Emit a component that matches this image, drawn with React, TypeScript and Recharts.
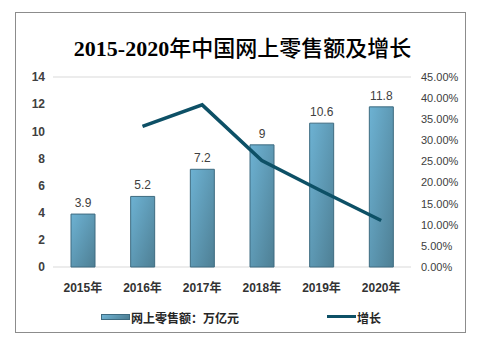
import { ComposedChart, Bar, Line, XAxis, YAxis, CartesianGrid, LabelList, Legend } from 'recharts';

const years = ['2015年', '2016年', '2017年', '2018年', '2019年', '2020年'];
const sales = [3.9, 5.2, 7.2, 9, 10.6, 11.8];
const growth = [null, 0.333, 0.384, 0.252, 0.18, 0.11];
const leftTicks = [0, 2, 4, 6, 8, 10, 12, 14];
const rightTicks = [0, 0.05, 0.1, 0.15, 0.2, 0.25, 0.3, 0.35, 0.4, 0.45];

const data = years.map((name, i) => ({ name, sales: sales[i], growth: growth[i] }));

const font = 'Arial, "Liberation Sans", "Noto Sans CJK SC", sans-serif';

const renderLegend = () => (
  <div style={{ position: 'relative', height: 20, fontFamily: font, fontSize: 12, fontWeight: 'bold', color: '#262626' }}>
    <div style={{ position: 'absolute', left: 101, top: 6, width: 29, height: 6, background: 'linear-gradient(135deg, #6fb3d3, #4c7d92)', border: '1px solid #3e6b80', boxSizing: 'border-box' }} />
    <span style={{ position: 'absolute', left: 131, top: 1 }}>网上零售额：万亿元</span>
    <div style={{ position: 'absolute', left: 327, top: 7, width: 29, height: 3, background: '#0d5066' }} />
    <span style={{ position: 'absolute', left: 357, top: 1 }}>增长</span>
  </div>
);

export default function App() {
  return (
    <div style={{ position: 'absolute', left: 0, top: 0, width: 485, height: 337, background: '#fff' }}>
      <div style={{ position: 'absolute', left: 15, top: 12, width: 449, height: 319, border: '1px solid #8c8c8c' }} />
      <div style={{ position: 'absolute', left: 0, top: 30, width: 485, textAlign: 'center', fontFamily: '"Liberation Serif", "Noto Sans CJK SC", serif', fontSize: 22, fontWeight: 500, color: '#000' }}>
        <span style={{ fontWeight: 'bold' }}>2015-2020</span>年中国网上零售额及增长
      </div>
      <ComposedChart width={485} height={337} data={data} margin={{ top: 77, right: 0, bottom: 24, left: 0 }} barCategoryGap={0} style={{ position: 'absolute', left: 0, top: 0 }}>
        <defs>
          <linearGradient id="barGrad" x1="0" y1="0" x2="1" y2="1">
            <stop offset="0%" stopColor="#6db2d3" />
            <stop offset="100%" stopColor="#4e7f94" />
          </linearGradient>
        </defs>
        <CartesianGrid vertical={false} stroke="#d9d9d9" />
        <XAxis dataKey="name" axisLine={false} tickLine={false} height={22} tickMargin={10} tick={{ fontSize: 12, fontWeight: 'bold', fill: '#333', fontFamily: font }} />
        <YAxis yAxisId="left" domain={[0, 14]} ticks={leftTicks} width={53} axisLine={false} tickLine={false} tickMargin={2} tick={{ fontSize: 12, fontWeight: 'bold', fill: '#404040', fontFamily: font }} />
        <YAxis yAxisId="right" orientation="right" domain={[0, 0.45]} ticks={rightTicks} width={74} axisLine={false} tickLine={false} tickMargin={4} tickFormatter={(v: number) => (v * 100).toFixed(2) + '%'} tick={{ fontSize: 11, fill: '#404040', fontFamily: font, textAnchor: 'start' }} />
        <Bar yAxisId="left" dataKey="sales" barSize={24} fill="url(#barGrad)" stroke="#3e6b80" strokeWidth={1} isAnimationActive={false}>
          <LabelList dataKey="sales" position="top" offset={7} style={{ fontSize: 12, fill: '#404040', fontFamily: font }} />
        </Bar>
        <Line yAxisId="right" dataKey="growth" stroke="#0d5066" strokeWidth={3.5} dot={false} activeDot={false} isAnimationActive={false} />
        <Legend verticalAlign="bottom" height={24} content={renderLegend} wrapperStyle={{ top: 308, left: 0, width: 485 }} />
      </ComposedChart>
    </div>
  );
}
